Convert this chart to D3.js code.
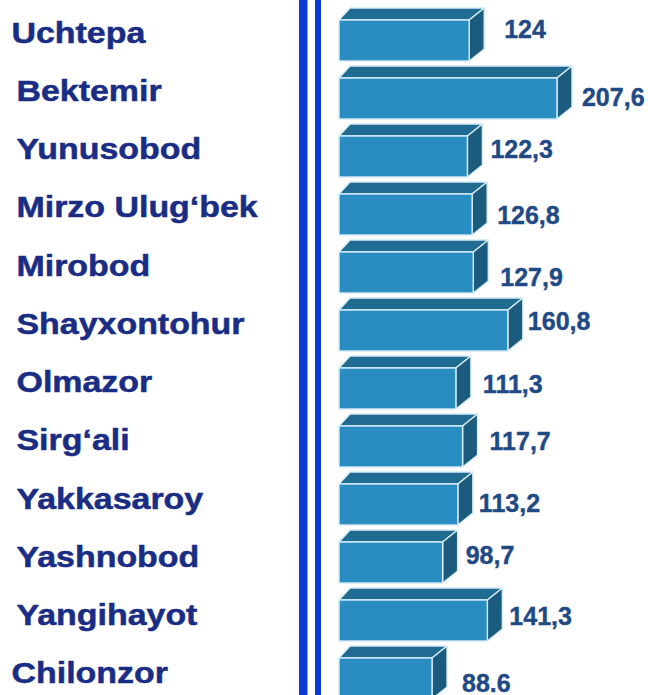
<!DOCTYPE html>
<html>
<head>
<meta charset="utf-8">
<script src="https://cdn.jsdelivr.net/npm/d3@7/dist/d3.min.js"></script>
<style>
  html, body { margin: 0; padding: 0; background: #ffffff; }
  svg { display: block; }
</style>
</head>
<body>
<svg id="chart" width="648" height="695"></svg>
<script>
// Tashkent districts and their indicator values
const districts = [
  "Uchtepa", "Bektemir", "Yunusobod", "Mirzo Ulug‘bek", "Mirobod", "Shayxontohur",
  "Olmazor", "Sirg‘ali", "Yakkasaroy", "Yashnobod", "Yangihayot", "Chilonzor"
];
const values = [124, 207.6, 122.3, 126.8, 127.9, 160.8, 111.3, 117.7, 113.2, 98.7, 141.3, 88.6];
const valueLabels = ["124", "207,6", "122,3", "126,8", "127,9", "160,8", "111,3", "117,7", "113,2", "98,7", "141,3", "88.6"];

// Layout tweaks for the text beside the bars
const valueLabelOffset = [
  [20, 30], [10, 40], [8, 34], [10, 42], [12, 46], [5, 32],
  [12, 37], [12, 36], [6, 40], [8, 34], [7, 37], [15, 46]
];
const nameIndent = [0, 5, 5, 5, 5, 5, 5, 5, 5, 5, 5, 0];

const svg = d3.select("#chart");
const W = 648, H = 695;

// Scales
const x = d3.scaleLinear().domain([0, 200]).range([339, 549]);
const y = d3.scaleBand().domain(districts).range([8, 8 + 58 * districts.length]).padding(0);
const yName = d3.scalePoint().domain(districts).range([42.7, 683.3]);

const topH = 12;      // depth of the top face
const frontH = 41;    // height of the front face
const dxTop = 11, dxSide = 15;

// Double vertical rule
svg.append("rect").attr("x", 299).attr("y", 0).attr("width", 8.5).attr("height", H).attr("fill", "#0a39d8");
svg.append("rect").attr("x", 315).attr("y", 0).attr("width", 6).attr("height", H).attr("fill", "#0a39d8");

// District names
svg.append("g").selectAll("text")
  .data(districts)
  .join("text")
  .attr("transform", (d, i) => `translate(${11.5 + nameIndent[i]},${yName(d)}) scale(1.17,1)`)
  .attr("font-family", "'Liberation Sans', Arial, sans-serif")
  .attr("font-weight", "bold")
  .attr("font-size", 29)
  .attr("fill", "#1a2d85")
  .attr("stroke", "#1a2d85")
  .attr("stroke-width", 0.5)
  .text(d => d);

// 3D bars
const bars = svg.append("g").selectAll("g")
  .data(districts.map((d, i) => ({ name: d, value: values[i], label: valueLabels[i], i })))
  .join("g");

const stroke = "#d6ecf7";
const sw = 1.4;

bars.append("path")  // top face
  .attr("d", d => {
    const x0 = x(0), x1 = x(d.value), yf = y(d.name) + topH;
    return `M${x0},${yf} L${x0 + dxTop},${yf - topH} L${x1 + dxSide},${yf - topH} L${x1},${yf} Z`;
  })
  .attr("fill", "#1f6b91").attr("stroke", stroke).attr("stroke-width", sw).attr("stroke-linejoin", "round");

bars.append("path")  // side face
  .attr("d", d => {
    const x1 = x(d.value), yf = y(d.name) + topH;
    return `M${x1},${yf} L${x1 + dxSide},${yf - topH} L${x1 + dxSide},${yf - topH + frontH} L${x1},${yf + frontH} Z`;
  })
  .attr("fill", "#1b5b7d").attr("stroke", stroke).attr("stroke-width", sw).attr("stroke-linejoin", "round");

bars.append("rect")  // front face
  .attr("x", x(0))
  .attr("y", d => y(d.name) + topH)
  .attr("width", d => x(d.value) - x(0))
  .attr("height", frontH)
  .attr("fill", "#2a8dc2").attr("stroke", stroke).attr("stroke-width", sw);

// Value labels
bars.append("text")
  .attr("x", d => x(d.value) + dxSide + valueLabelOffset[d.i][0])
  .attr("y", d => y(d.name) + valueLabelOffset[d.i][1])
  .attr("font-family", "'Liberation Sans', Arial, sans-serif")
  .attr("font-weight", "bold")
  .attr("font-size", 25)
  .attr("fill", "#1f4a86")
  .attr("stroke", "#1f4a86")
  .attr("stroke-width", 0.4)
  .text(d => d.label);
</script>
</body>
</html>
